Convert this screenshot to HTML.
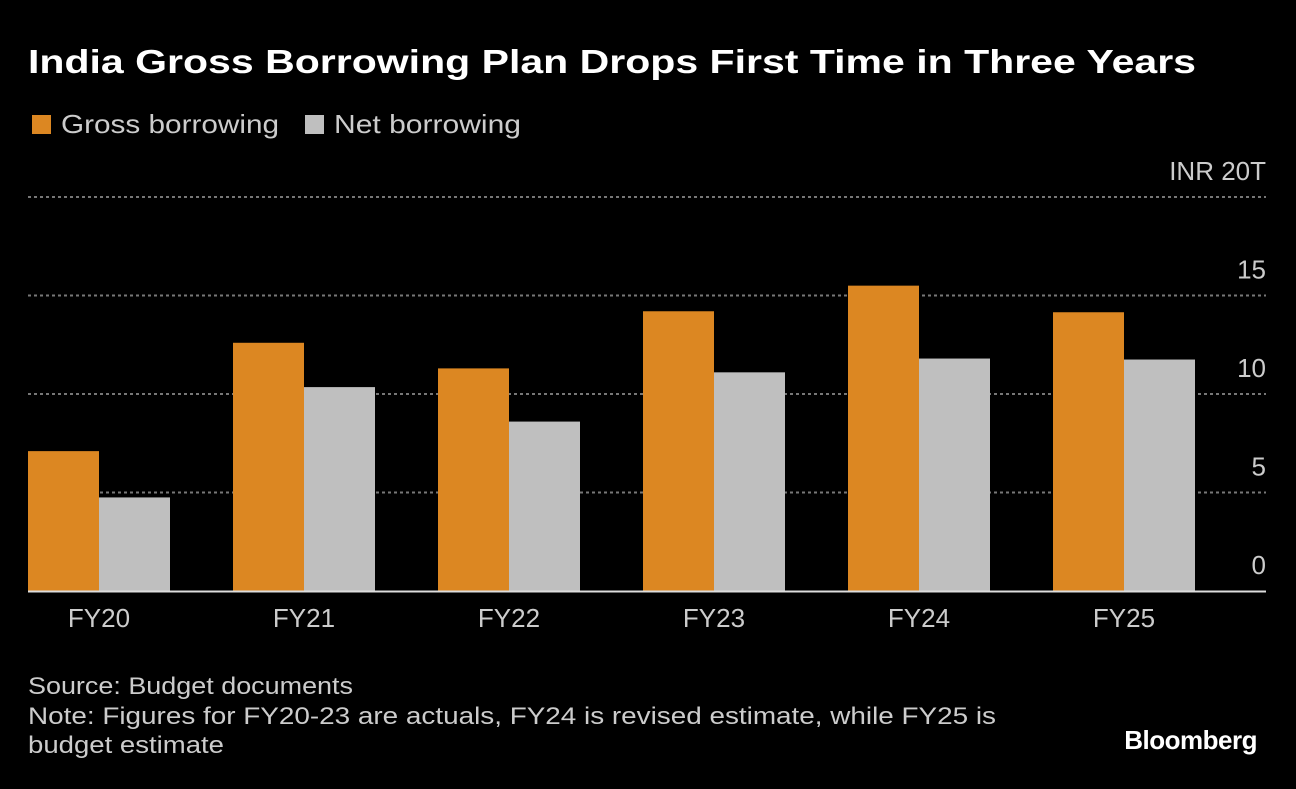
<!DOCTYPE html>
<html><head><meta charset="utf-8"><style>
body{margin:0;background:#000;width:1296px;height:784px;overflow:hidden;font-family:"Liberation Sans",sans-serif;}
svg text{font-family:"Liberation Sans",sans-serif;}
</style></head><body>
<svg id="chart" width="1296" height="784" xmlns="http://www.w3.org/2000/svg">
<text x="28" y="73" fill="#fff" font-size="33" font-weight="bold" textLength="1168" lengthAdjust="spacingAndGlyphs">India Gross Borrowing Plan Drops First Time in Three Years</text>
<g>
<rect x="32" y="115" width="19" height="19" fill="#dc8722"/>
<text x="61" y="133" fill="#ccc" font-size="26" textLength="218" lengthAdjust="spacingAndGlyphs">Gross borrowing</text>
<rect x="305" y="115" width="19" height="19" fill="#bfbfbf"/>
<text x="334" y="133" fill="#ccc" font-size="26" textLength="187" lengthAdjust="spacingAndGlyphs">Net borrowing</text>
</g>
<g id="grid"></g>
<g id="bars"></g>
<g id="xlabels"></g>
<text x="28" y="694" fill="#ccc" font-size="24" textLength="325" lengthAdjust="spacingAndGlyphs">Source: Budget documents</text>
<text x="28" y="724" fill="#ccc" font-size="24" textLength="968" lengthAdjust="spacingAndGlyphs">Note: Figures for FY20-23 are actuals, FY24 is revised estimate, while FY25 is</text>
<text x="28" y="753" fill="#ccc" font-size="24" textLength="196" lengthAdjust="spacingAndGlyphs">budget estimate</text>
<text x="1257" y="749" fill="#fff" font-size="26" font-weight="bold" text-anchor="end" letter-spacing="-0.5">Bloomberg</text>
</svg>
<script>
const categories=["FY20","FY21","FY22","FY23","FY24","FY25"];
const grossValues=[7.1,12.6,11.3,14.2,15.5,14.15];
const netValues=[4.75,10.35,8.6,11.1,11.8,11.75];
const yTicks=[0,5,10,15,20];
const yTickLabels=["0","5","10","15","INR 20T"];
const NS="http://www.w3.org/2000/svg";
const left=28,right=1266,y0=591,pxPerUnit=19.7;
const y=v=>y0-v*pxPerUnit;
const groupW=205,barW=71;
const xg=i=>left+i*groupW;
function mk(tag,attrs,parent){const e=document.createElementNS(NS,tag);for(const k in attrs)e.setAttribute(k,attrs[k]);parent.appendChild(e);return e;}
const grid=document.getElementById('grid'),bars=document.getElementById('bars'),xl=document.getElementById('xlabels');
yTicks.forEach((t,i)=>{
  if(t>0){const l=mk('line',{x1:left,x2:right,y1:y(t),y2:y(t),stroke:'#777','stroke-width':2,'stroke-dasharray':'3,3'},grid);
  
  }
  const tx=mk('text',{x:right,y:y(t)-17,fill:'#ccc','font-size':26,'text-anchor':'end'},grid);
  tx.textContent=yTickLabels[i];
  
  
});
categories.forEach((c,i)=>{
  const g=mk('rect',{x:xg(i),y:y(grossValues[i]),width:barW,height:grossValues[i]*pxPerUnit,fill:'#dc8722'},bars);
  
  
  const n=mk('rect',{x:xg(i)+barW,y:y(netValues[i]),width:barW,height:netValues[i]*pxPerUnit,fill:'#bfbfbf'},bars);
  
  
  const t=mk('text',{x:xg(i)+barW,y:627,fill:'#ccc','font-size':26,'text-anchor':'middle'},xl);
  t.textContent=c;
  
  
});
const base=mk('line',{x1:left,x2:right,y1:y0+0.5,y2:y0+0.5,stroke:'#ddd','stroke-width':2},bars);


</script>
</body></html>
